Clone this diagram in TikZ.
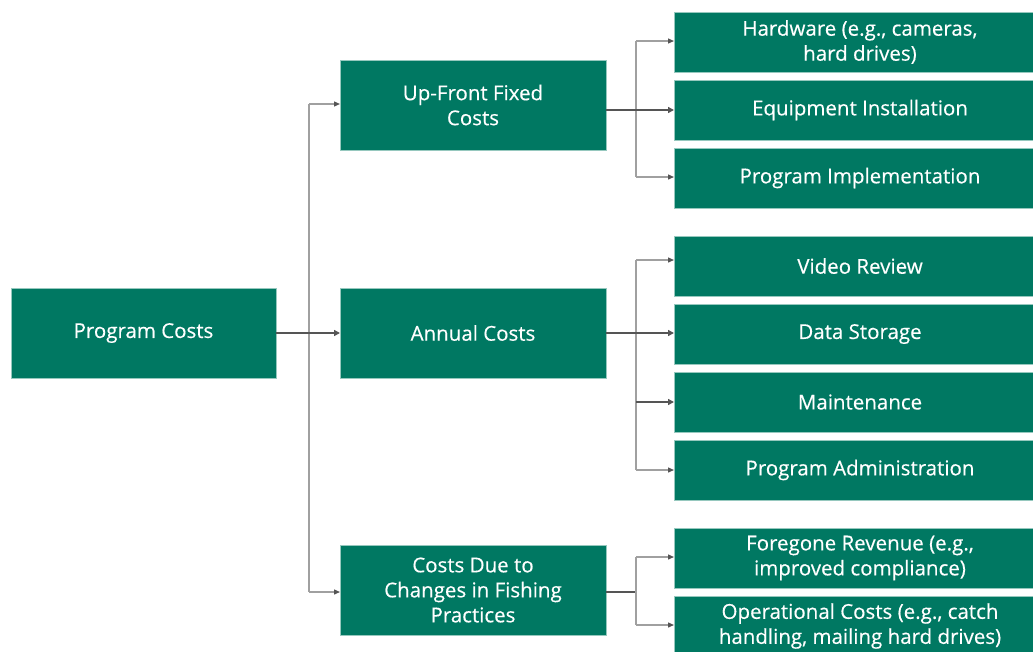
\documentclass[tikz,border=0pt]{standalone}
\usepackage{fontspec}
\setmainfont{Open Sans}[FakeBold=0.35]
\usetikzlibrary{arrows.meta}
\definecolor{boxgreen}{RGB}{0,120,98}
\definecolor{boxedge}{RGB}{150,200,190}
\definecolor{darkline}{RGB}{85,85,85}
\definecolor{grayline}{RGB}{160,160,160}
\begin{document}
\begin{tikzpicture}[x=1pt,y=-1pt,
  gbox/.style={fill=boxgreen,draw=boxedge,line width=0.6pt,text=white,inner sep=0pt,outer sep=0pt,
    anchor=north west,align=center,font=\fontsize{20.5}{25}\selectfont},
  thickarr/.style={draw=darkline,line width=2.2pt,-{Triangle[length=6pt,width=6pt]}},
  thinarr/.style={draw=grayline,line width=1.3pt,-{Triangle[length=6pt,width=5pt,fill=darkline,color=darkline]}},
  thinline/.style={draw=grayline,line width=1.3pt}]
\useasboundingbox (0,0) rectangle (1033,651);
% left
\node[gbox,minimum width=265pt,minimum height=90pt] (pc) at (11,288) {Program Costs};
% middle
\node[gbox,minimum width=266pt,minimum height=90pt] (uf) at (340,60) {Up-Front Fixed\\Costs};
\node[gbox,minimum width=266pt,minimum height=90pt] (ac) at (340,288) {Annual Costs};
\node[gbox,minimum width=266pt,minimum height=90pt] (cd) at (340,545) {Costs Due to\\Changes in Fishing\\Practices};
% right
\node[gbox,minimum width=372pt,minimum height=60pt] (hw) at (674,12) {Hardware (e.g., cameras,\\hard drives)};
\node[gbox,minimum width=372pt,minimum height=60pt] (ei) at (674,80) {Equipment Installation};
\node[gbox,minimum width=372pt,minimum height=60pt] (pi) at (674,148) {Program Implementation};
\node[gbox,minimum width=372pt,minimum height=60pt] (vr) at (674,236) {Video Review};
\node[gbox,minimum width=372pt,minimum height=60pt] (ds) at (674,304) {Data Storage};
\node[gbox,minimum width=372pt,minimum height=60pt] (mt) at (674,372) {Maintenance};
\node[gbox,minimum width=372pt,minimum height=60pt] (pa) at (674,440) {Program Administration};
\node[gbox,minimum width=372pt,minimum height=60pt] (fr) at (674,528) {Foregone Revenue (e.g.,\\improved compliance)};
\node[gbox,minimum width=372pt,minimum height=60pt] (oc) at (674,596) {Operational Costs (e.g., catch\\handling, mailing hard drives)};
% level 1
\draw[thinline] (309,104) -- (309,592);
\draw[thickarr] (pc.east) -- (ac.west);
\draw[thinarr] (309,104) -- (uf.west |- 0,104);
\draw[thinarr] (309,592) -- (cd.west |- 0,592);
% up-front
\draw[thinline] (636,41) -- (636,177);
\draw[thickarr] (uf.east |- 0,110) -- (ei.west |- 0,110);
\draw[thinarr] (636,41) -- (hw.west |- 0,41);
\draw[thinarr] (636,177) -- (pi.west |- 0,177);
% annual
\draw[thinline] (636,260) -- (636,470);
\draw[thickarr] (ac.east) -- (ds.west |- ac.east);
\draw[thinarr] (636,260) -- (vr.west |- 0,260);
\draw[thickarr] (636,402) -- (mt.west |- 0,402);
\draw[thinarr] (636,470) -- (pa.west |- 0,470);
% costs due
\draw[draw=darkline,line width=1.3pt] (cd.east |- 0,592) -- (636,592);
\draw[thinline] (636,557) -- (636,625);
\draw[thinarr] (636,557) -- (fr.west |- 0,557);
\draw[thinarr] (636,625) -- (oc.west |- 0,625);
\end{tikzpicture}
\end{document}
